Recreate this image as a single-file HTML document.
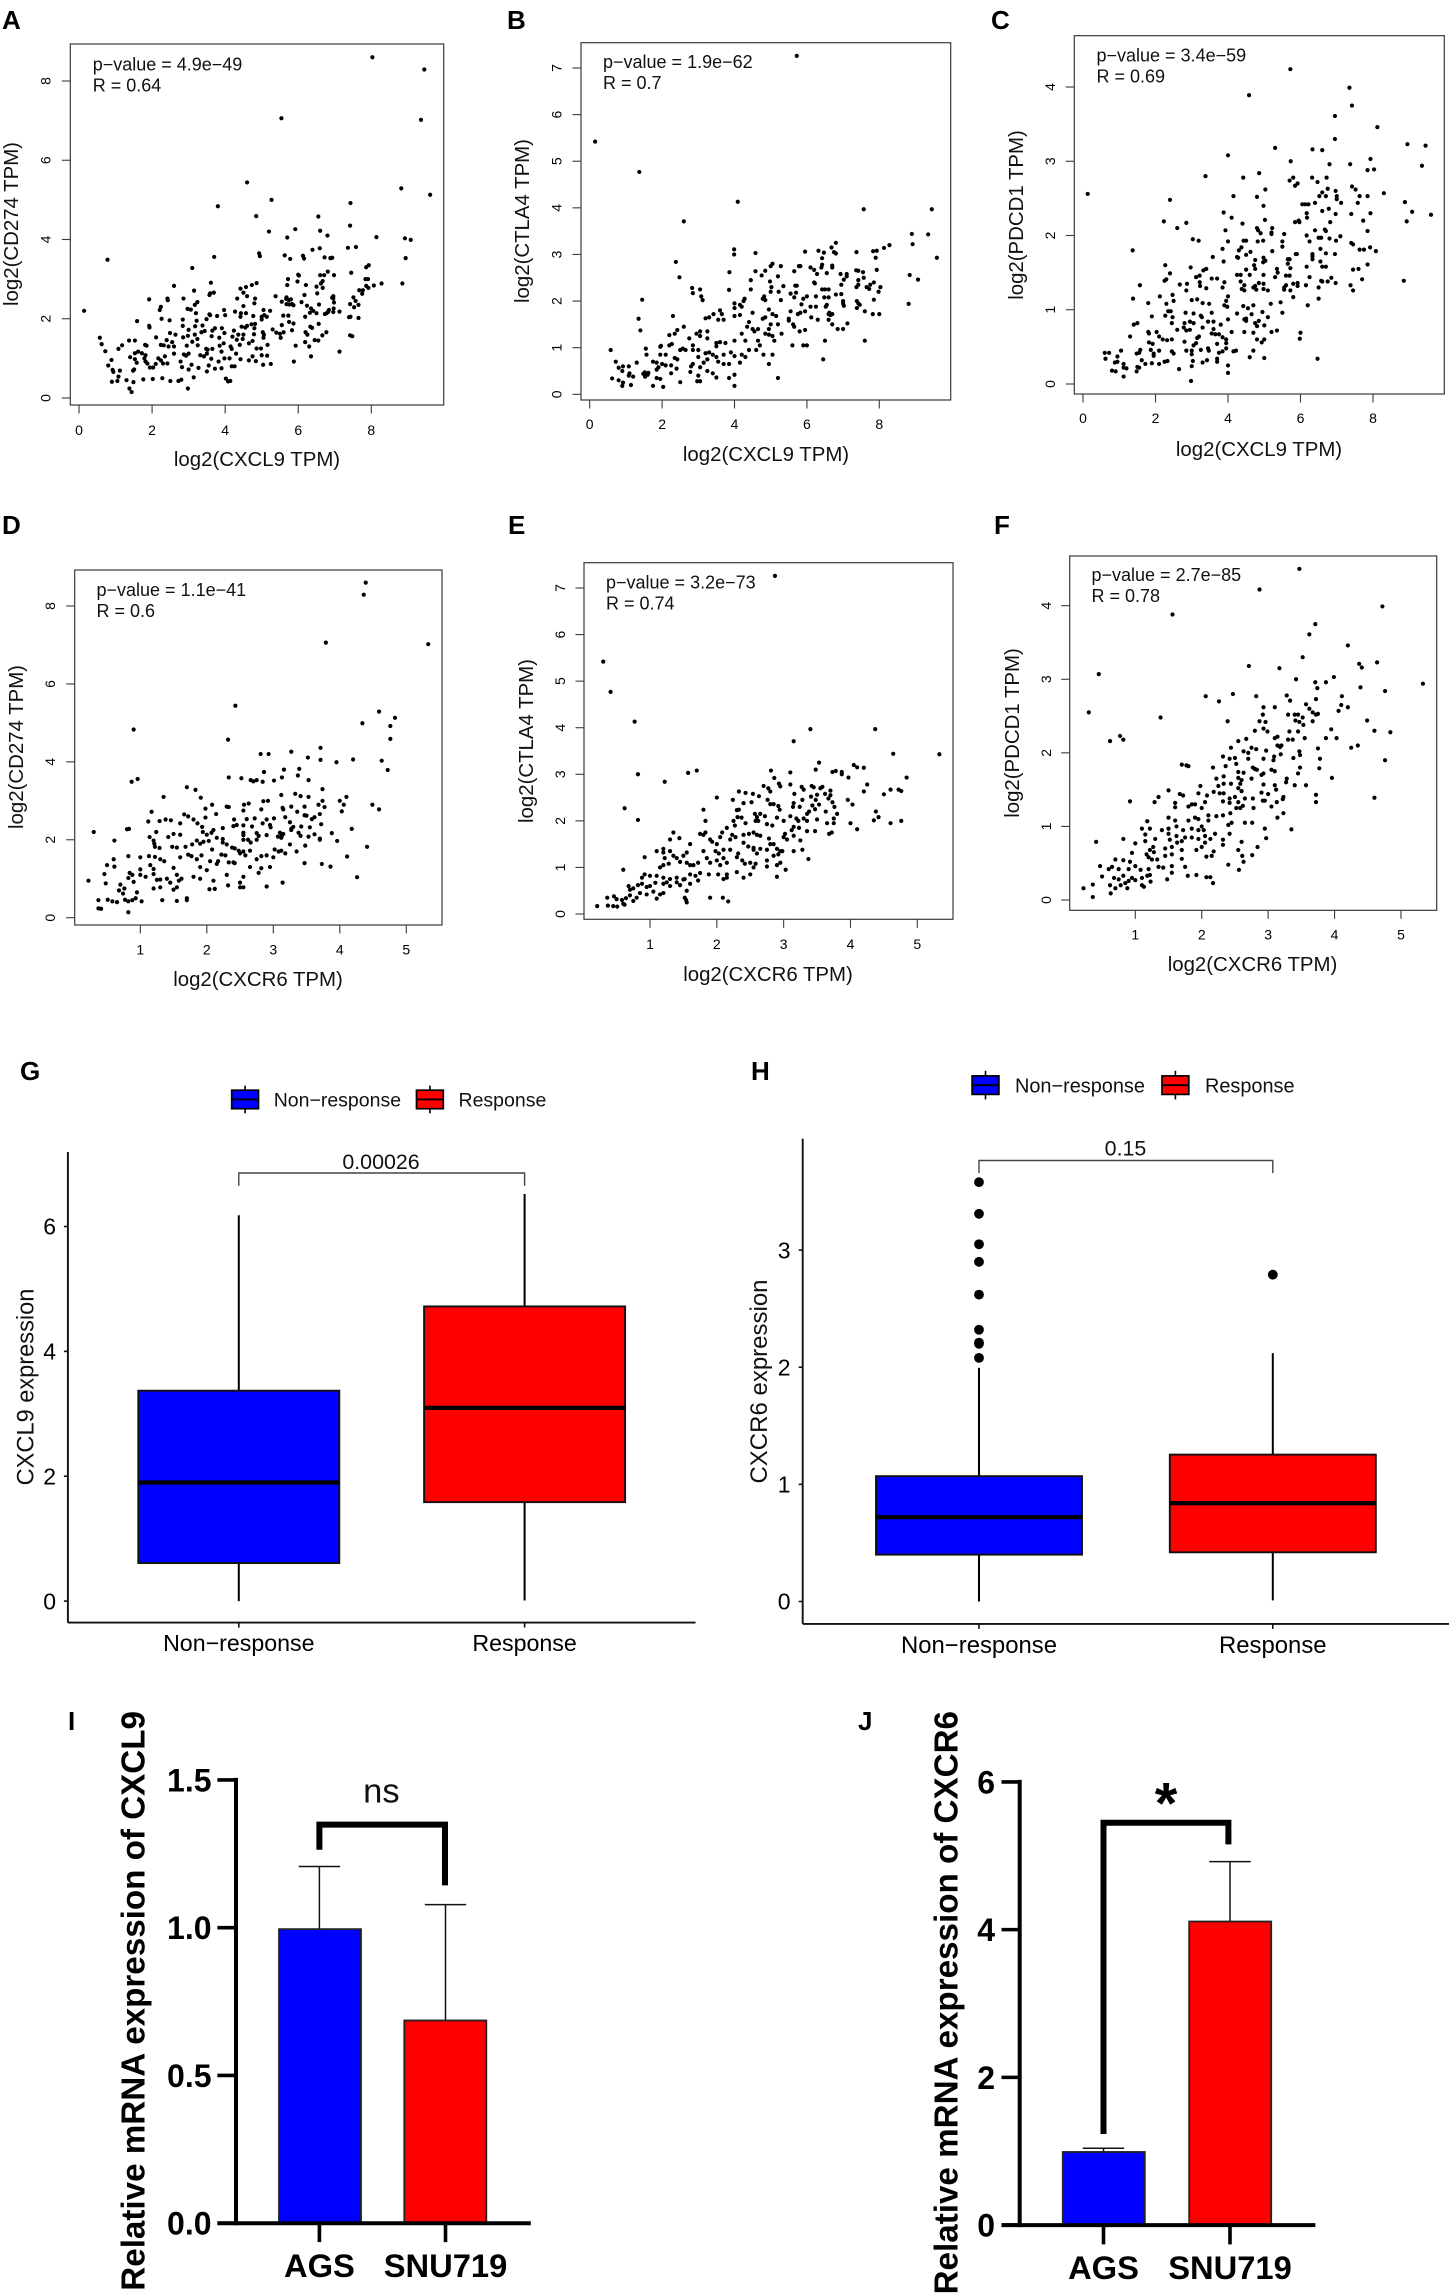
<!DOCTYPE html>
<html lang="en">
<head>
<meta charset="utf-8">
<title>CXCL9 and CXCR6 correlation, response and expression panels</title>
<style>
html,body{margin:0;padding:0;background:#fff;}
svg{display:block;}
text{font-family:"Liberation Sans",Arial,sans-serif;fill:#000;}
.panel-label{font-size:26px;font-weight:bold;}
.scatter-title{font-size:20.4px;fill:#111;}
.scatter-note{font-size:18px;fill:#111;}
.legend-label{font-size:19.5px;fill:#111;}
.box-title{font-size:23.6px;fill:#111;}
.p-label{font-size:21.4px;fill:#111;}
.bar-title{font-size:33.2px;font-weight:bold;}
</style>
</head>
<body>
<svg id="figure" xmlns="http://www.w3.org/2000/svg" width="1450" height="2295" viewBox="0 0 1450 2295">
<rect x="0" y="0" width="1450" height="2295" fill="#fff"/>

<text class="panel-label" x="2" y="29">A</text>
<text class="panel-label" x="507" y="29">B</text>
<text class="panel-label" x="991" y="29">C</text>
<text class="panel-label" x="2" y="534">D</text>
<text class="panel-label" x="508" y="534">E</text>
<text class="panel-label" x="994" y="534">F</text>
<text class="panel-label" x="20" y="1080">G</text>
<text class="panel-label" x="751" y="1080">H</text>
<text class="panel-label" x="68" y="1730">I</text>
<text class="panel-label" x="858" y="1730">J</text>

<text class="scatter-title" x="257" y="466" text-anchor="middle">log2(CXCL9 TPM)</text>
<text class="scatter-title" transform="translate(18 224) rotate(-90)" text-anchor="middle">log2(CD274 TPM)</text>
<text class="scatter-note" x="92.7" y="70.5">p−value = 4.9e−49</text>
<text class="scatter-note" x="92.7" y="91.5">R = 0.64</text>

<text class="scatter-title" x="766" y="461" text-anchor="middle">log2(CXCL9 TPM)</text>
<text class="scatter-title" transform="translate(529 221) rotate(-90)" text-anchor="middle">log2(CTLA4 TPM)</text>
<text class="scatter-note" x="603" y="68">p−value = 1.9e−62</text>
<text class="scatter-note" x="603" y="89">R = 0.7</text>

<text class="scatter-title" x="1259" y="456" text-anchor="middle">log2(CXCL9 TPM)</text>
<text class="scatter-title" transform="translate(1023 215) rotate(-90)" text-anchor="middle">log2(PDCD1 TPM)</text>
<text class="scatter-note" x="1096.5" y="61.5">p−value = 3.4e−59</text>
<text class="scatter-note" x="1096.5" y="82.5">R = 0.69</text>

<text class="scatter-title" x="258" y="986" text-anchor="middle">log2(CXCR6 TPM)</text>
<text class="scatter-title" transform="translate(23 747) rotate(-90)" text-anchor="middle">log2(CD274 TPM)</text>
<text class="scatter-note" x="96.5" y="596">p−value = 1.1e−41</text>
<text class="scatter-note" x="96.5" y="617">R = 0.6</text>

<text class="scatter-title" x="768" y="981" text-anchor="middle">log2(CXCR6 TPM)</text>
<text class="scatter-title" transform="translate(533 741) rotate(-90)" text-anchor="middle">log2(CTLA4 TPM)</text>
<text class="scatter-note" x="606" y="588.5">p−value = 3.2e−73</text>
<text class="scatter-note" x="606" y="609.5">R = 0.74</text>

<text class="scatter-title" x="1252.5" y="971" text-anchor="middle">log2(CXCR6 TPM)</text>
<text class="scatter-title" transform="translate(1019 733) rotate(-90)" text-anchor="middle">log2(PDCD1 TPM)</text>
<text class="scatter-note" x="1091.5" y="581">p−value = 2.7e−85</text>
<text class="scatter-note" x="1091.5" y="602">R = 0.78</text>

<text class="box-title" transform="translate(33.5 1387) rotate(-90)" text-anchor="middle">CXCL9 expression</text>
<text class="legend-label" x="273.7" y="1106.5">Non−response</text>
<text class="legend-label" x="458.5" y="1106.5">Response</text>
<text class="p-label" x="381" y="1169" text-anchor="middle">0.00026</text>

<text class="box-title" transform="translate(767 1381.5) rotate(-90)" text-anchor="middle" style="font-size:24px">CXCR6 expression</text>
<text class="legend-label" x="1015" y="1092.3" style="font-size:19.9px">Non−response</text>
<text class="legend-label" x="1205" y="1092.3" style="font-size:19.9px">Response</text>
<text class="p-label" x="1125.5" y="1155.5" text-anchor="middle">0.15</text>

<text class="bar-title" transform="translate(144.3 1711) rotate(-90)" text-anchor="end">Relative mRNA expression of CXCL9</text>
<text x="381.4" y="1802.7" text-anchor="middle" style="font-size:34.5px;fill:#111">ns</text>

<text class="bar-title" transform="translate(957.3 1711) rotate(-90)" text-anchor="end">Relative mRNA expression of CXCR6</text>
<text x="1166" y="1823.5" text-anchor="middle" style="font-size:58px;font-weight:bold">*</text>

<g id="marks"></g>
</svg>

<script>
// ---------- shared tick labels ----------
const ticksCXCL9 = [0, 2, 4, 6, 8];
const ticksCXCR6 = [1, 2, 3, 4, 5];
const ticksCD274 = [0, 2, 4, 6, 8];
const ticksCTLA4 = [0, 1, 2, 3, 4, 5, 6, 7];
const ticksPDCD1 = [0, 1, 2, 3, 4];

// ---------- scatter data: [x, y] values ----------
const pointsA = [
[8.03,8.6],[9.45,8.29],[5.54,7.06],[9.36,7.02],[4.6,5.44],[8.82,5.29],[9.61,5.13],[5.27,5.0],[7.43,4.92],[3.8,4.84],[4.85,4.59],[6.55,4.58],[7.42,4.35],[5.92,4.26],[5.2,4.2],[6.6,4.22],[6.8,4.1],[5.7,4.05],[8.14,4.06],[8.92,4.03],[9.08,3.99],[7.36,3.79],[7.58,3.81],[6.59,3.78],[6.39,3.74],[0.78,3.49],[3.7,3.56],[4.93,3.65],[4.95,3.58],[5.63,3.6],[5.78,3.51],[6.13,3.59],[6.16,3.52],[6.72,3.55],[6.88,3.53],[6.93,3.54],[8.94,3.53],[3.1,3.28],[7.86,3.3],[7.93,3.35],[6.81,3.19],[7.45,3.16],[6.0,3.11],[6.02,3.09],[6.6,3.1],[6.71,3.1],[6.98,3.1],[5.72,3.0],[7.84,3.0],[7.91,3.0],[3.61,2.91],[4.86,2.9],[4.73,2.85],[4.57,2.8],[5.98,2.94],[8.28,2.89],[8.85,2.89],[6.21,2.85],[5.7,2.85],[8.07,2.84],[7.86,2.83],[7.92,2.78],[2.6,2.83],[4.42,2.76],[6.67,2.95],[6.62,2.89],[6.5,2.81],[6.67,2.78],[3.15,2.71],[7.67,2.72],[7.77,2.72],[7.75,2.63],[3.69,2.66],[3.57,2.6],[3.59,2.64],[4.5,2.66],[6.52,2.64],[4.6,2.57],[6.17,2.6],[5.38,2.57],[4.33,2.51],[4.82,2.51],[1.92,2.49],[2.42,2.51],[2.43,2.47],[2.86,2.51],[5.68,2.54],[5.67,2.5],[5.74,2.47],[5.8,2.49],[6.96,2.57],[6.93,2.53],[6.96,2.51],[7.51,2.54],[5.55,2.43],[3.24,2.42],[6.09,2.42],[6.98,2.41],[7.57,2.45],[4.8,2.39],[3.17,2.35],[5.68,2.37],[5.76,2.36],[5.87,2.34],[5.83,2.37],[6.57,2.36],[4.5,2.32],[7.42,2.37],[7.53,2.29],[7.65,2.35],[6.24,2.33],[6.35,2.26],[2.24,2.3],[2.21,2.22],[2.97,2.25],[3.06,2.23],[3.2,2.14],[3.97,2.22],[5.05,2.22],[5.23,2.2],[4.27,2.18],[4.43,2.14],[4.57,2.14],[6.41,2.2],[6.5,2.14],[6.32,2.15],[6.97,2.26],[6.84,2.22],[6.82,2.18],[7.13,2.18],[6.96,2.17],[6.73,2.12],[6.78,2.14],[3.57,2.11],[3.59,2.09],[4.0,2.09],[3.78,2.07],[5.59,2.08],[5.73,2.08],[7.39,2.04],[7.43,2.05],[6.19,2.05],[4.42,2.05],[4.77,2.07],[5.0,2.05],[5.07,2.09],[5.14,2.05],[5.0,1.98],[7.65,2.02],[2.26,2.0],[2.48,1.96],[1.59,1.94],[2.84,1.98],[3.49,1.99],[3.22,1.95],
[1.92,1.82],[1.93,1.78],[2.84,1.82],[3.18,1.81],[3.38,1.83],[3.72,1.76],[3.91,1.76],[4.45,1.8],[4.6,1.82],[4.72,1.86],[4.82,1.87],[4.55,1.78],[5.75,1.92],[5.55,1.84],[5.87,1.88],[6.33,1.8],[6.38,1.77],[6.56,1.87],[3.0,1.72],[3.35,1.66],[3.44,1.69],[3.65,1.7],[3.98,1.64],[4.24,1.7],[4.8,1.76],[5.03,1.66],[5.3,1.73],[5.83,1.71],[6.2,1.66],[6.77,1.66],[6.66,1.58],[5.4,1.65],[5.5,1.62],[5.6,1.66],[2.64,1.6],[2.49,1.64],[2.98,1.57],[3.17,1.6],[3.63,1.56],[3.84,1.52],[4.2,1.55],[4.36,1.6],[4.5,1.6],[4.79,1.61],[5.06,1.6],[5.52,1.52],[6.25,1.6],[7.42,1.58],[7.48,1.56],[2.11,1.53],[2.85,1.53],[2.4,1.46],[2.55,1.41],[3.1,1.42],[3.24,1.49],[4.32,1.47],[4.48,1.49],[4.75,1.44],[5.05,1.52],[6.45,1.46],[6.55,1.45],[6.19,1.41],[2.24,1.34],[2.32,1.33],[2.45,1.3],[2.6,1.3],[2.95,1.32],[3.25,1.33],[3.48,1.24],[3.52,1.22],[3.85,1.32],[3.96,1.38],[4.15,1.3],[4.4,1.34],[4.65,1.38],[5.16,1.34],[5.93,1.32],[6.3,1.3],[7.13,1.17],[0.57,1.52],[0.62,1.36],[0.72,1.18],[0.89,0.96],[0.8,0.82],[0.92,0.71],[0.94,0.66],[0.9,0.41],[1.05,0.43],[1.08,0.54],[1.12,0.69],[1.08,1.24],[1.18,1.33],[1.37,1.45],[1.53,1.45],[1.3,0.45],[1.38,0.24],[1.44,0.15],[1.49,0.4],[1.48,0.69],[1.51,0.72],[1.4,1.03],[1.53,1.13],[1.62,1.17],[1.53,0.98],[1.58,0.89],[1.72,1.13],[1.81,1.34],[1.85,1.32],[1.82,1.08],[1.79,1.0],[1.82,0.92],[1.87,0.87],[1.76,0.47],[2.02,0.48],[2.28,0.5],[1.94,0.77],[2.03,0.77],[2.1,0.86],[2.17,1.0],[2.24,0.95],[2.3,0.87],[2.42,0.87],[2.5,0.43],[2.72,0.43],[2.8,0.46],[2.98,0.24],[3.14,0.52],[2.82,0.78],[2.78,0.92],[2.87,1.1],[2.93,1.07],[3.0,1.12],[3.08,0.84],[3.0,0.72],[3.27,0.76],[3.5,0.67],[3.55,0.82],[3.62,0.99],[3.72,0.74],[3.82,0.92],[3.9,0.75],[3.98,1.0],[4.12,1.0],[4.02,0.49],[4.08,0.42],[4.14,0.43],[4.18,0.8],[4.26,0.8],[4.42,0.98],[4.65,0.95],[4.75,1.05],[4.84,0.93],[4.86,1.25],[4.98,1.25],[5.0,1.08],[5.04,0.84],[5.25,0.86],[5.15,1.07],[5.88,0.92],[6.35,1.05],[3.32,1.08],[3.42,1.05],[3.5,1.12],[3.65,1.24],[3.9,1.17],[4.18,1.24],[4.3,1.12],[2.35,1.05],[2.6,1.12],[0.14,2.2]
];
const pointsB = [
[5.72,7.26],[0.15,5.42],[1.37,4.77],[4.09,4.13],[2.6,3.71],[7.57,3.97],[9.45,3.97],[8.9,3.44],[9.35,3.43],[8.92,3.22],[9.59,2.93],[8.28,3.2],[8.13,3.14],[2.38,2.84],[2.48,2.51],[3.99,3.11],[3.99,3.0],[4.58,3.03],[8.84,2.56],[9.07,2.46],[8.81,1.94],[5.95,3.06],[6.32,3.08],[6.47,3.04],[6.8,3.25],[6.68,3.15],[6.8,3.02],[6.75,3.05],[7.37,3.05],[7.83,3.07],[7.93,3.08],[7.9,2.93],[6.42,2.92],[5.05,2.8],[5.0,2.75],[5.28,2.75],[5.78,2.75],[5.82,2.75],[6.1,2.72],[6.2,2.67],[6.42,2.78],[6.4,2.72],[6.7,2.76],[6.7,2.72],[7.36,2.66],[7.42,2.65],[7.55,2.62],[7.93,2.67],[5.65,2.64],[4.58,2.64],[3.86,2.62],[4.85,2.65],[4.75,2.55],[4.98,2.42],[4.45,2.45],[5.2,2.53],[6.55,2.6],[6.28,2.58],[6.93,2.58],[7.1,2.58],[7.1,2.53],[7.57,2.5],[7.42,2.45],[7.02,2.46],[6.95,2.35],[7.42,2.35],[7.85,2.4],[7.65,2.3],[7.72,2.26],[7.75,2.35],[8.03,2.3],[7.98,2.2],[7.37,2.3],[6.2,2.4],[6.22,2.38],[5.72,2.33],[5.68,2.33],[6.5,2.25],[6.6,2.25],[6.42,2.25],[5.02,2.3],[5.35,2.32],[5.22,2.2],[5.0,2.2],[4.45,2.25],[2.83,2.28],[3.05,2.25],[2.85,2.17],[3.08,2.1],[3.12,2.02],[1.45,2.03],[3.85,2.24],[5.55,2.16],[5.7,2.18],[5.65,2.08],[6.0,2.1],[5.9,2.05],[6.25,2.1],[6.48,2.08],[6.6,2.08],[6.8,2.14],[6.95,2.15],[7.0,2.0],[7.0,1.95],[7.02,1.9],[5.28,2.02],[4.78,2.05],[4.82,2.1],[4.85,2.02],[4.28,2.05],[4.25,2.0],[4.0,1.95],[4.0,1.85],[4.15,1.92],[4.2,1.88],[5.85,1.93],[6.1,1.88],[6.25,1.88],[6.55,1.92],[6.52,1.88],[7.38,2.0],[7.42,1.95],[7.46,1.92],[7.38,1.85],[7.85,2.03],[8.0,1.72],[5.55,1.78],[5.82,1.75],[5.75,1.72],[5.95,1.78],[4.95,1.82],[5.05,1.72],[5.15,1.68],[4.85,1.65],[4.78,1.62],[4.5,1.75],[4.15,1.7],[4.0,1.68],[3.65,1.72],[3.6,1.8],[3.7,1.6],[3.42,1.72],[3.3,1.65],[3.2,1.63],[3.55,1.6],[2.3,1.68],[1.35,1.62],[1.4,1.37],[6.12,1.65],[6.3,1.6],[6.6,1.6],[6.62,1.75],[6.7,1.72],[6.6,1.72],[6.65,1.7],[7.12,1.52],[7.6,1.78],[7.82,1.72],[6.7,1.5],[6.85,1.4],[7.0,1.4],[5.5,1.62],[5.5,1.58],[5.62,1.5],[5.65,1.45],[5.2,1.5],[5.0,1.5],[5.3,1.3],[4.95,1.4],[4.65,1.4],[4.5,1.4],[4.4,1.55],[4.35,1.45],[4.2,1.3],[4.55,1.35],[4.85,1.3],[4.95,1.28],[5.05,1.25],[5.1,1.15],[5.8,1.35],[5.95,1.38],[5.6,1.05],[5.9,1.05],[6.0,1.05],[6.5,1.15],[7.6,1.15],[6.45,0.75],[2.6,1.45],[2.2,1.27],[2.35,1.3],[2.42,1.38],[3.05,1.35],[3.25,1.35],[3.05,1.25],[2.95,1.3],[2.75,1.2],[3.25,1.2],[3.5,1.1],[3.6,1.12],[3.75,1.1],[4.0,1.15],[4.3,1.15],[4.65,1.15],[4.7,1.05],[4.6,0.95],[4.8,0.85],[5.05,0.85],[4.95,0.65],[5.2,0.35],[1.55,0.98],[1.57,0.85],[0.58,0.95],[0.72,0.7],[0.8,0.57],[0.92,0.6],[1.08,0.6],[0.9,0.5],[1.1,0.45],[1.2,0.38],[1.08,0.4],[1.3,0.68],[0.62,0.34],[0.8,0.3],[0.92,0.25],[0.9,0.18],[1.14,0.2],[1.48,0.44],[1.52,0.47],[1.55,0.44],[1.6,0.42],[1.53,0.38],[1.62,0.46],[1.75,0.7],[1.85,0.68],[1.9,0.58],[1.95,0.85],[1.95,1.02],[1.97,1.04],[2.2,1.05],[2.27,1.08],[2.1,0.85],[1.85,0.53],[2.0,0.65],[2.1,0.62],[2.25,0.62],[2.25,0.45],[2.35,0.78],[2.42,0.75],[2.5,0.95],[2.57,0.98],[2.4,0.55],[1.75,0.18],[1.85,0.35],[1.95,0.33],[2.03,0.16],[2.5,0.26],[2.65,0.95],[2.85,1.05],[2.85,0.95],[2.8,0.6],[2.85,0.65],[2.78,0.48],[3.0,0.95],[3.0,0.8],[2.97,0.28],[3.05,0.28],[3.0,0.4],[3.05,0.58],[3.2,0.88],[3.3,0.9],[3.25,0.75],[3.4,0.85],[3.5,0.8],[3.5,1.03],[3.7,0.85],[3.7,0.65],[3.85,0.65],[3.9,0.9],[4.0,0.82],[4.2,0.85],[4.15,0.68],[3.85,0.35],[4.0,0.42],[4.0,0.18],[3.4,0.45],[3.5,0.36],[3.55,0.7],[3.15,0.68],[3.25,0.5],[4.4,0.95],[4.3,0.8]
];
const pointsC = [
[0.13,2.56],[5.72,4.24],[4.58,3.89],[7.35,3.99],[7.42,3.75],[6.95,3.61],[8.12,3.46],[6.95,3.3],[5.3,3.18],[6.33,3.16],[6.6,3.15],[8.95,3.23],[9.45,3.21],[4.0,3.08],[5.73,3.0],[6.8,2.96],[7.37,2.96],[7.93,3.03],[7.85,2.88],[8.03,2.89],[9.35,2.94],[4.86,2.84],[3.38,2.8],[4.42,2.78],[5.8,2.78],[5.7,2.74],[6.32,2.78],[6.72,2.78],[6.47,2.72],[5.92,2.7],[5.85,2.67],[7.42,2.66],[7.52,2.62],[6.75,2.63],[6.97,2.6],[5.03,2.62],[6.6,2.58],[6.52,2.53],[6.7,2.53],[7.0,2.53],[7.0,2.49],[7.85,2.53],[7.63,2.53],[8.3,2.57],[4.15,2.53],[4.8,2.52],[2.4,2.48],[7.58,2.44],[7.12,2.44],[6.4,2.44],[8.88,2.45],[6.05,2.42],[6.13,2.42],[6.22,2.42],[4.98,2.4],[6.78,2.36],[6.6,2.33],[6.97,2.29],[7.4,2.29],[7.93,2.3],[9.08,2.32],[9.6,2.28],[3.88,2.31],[4.1,2.24],[6.17,2.3],[6.18,2.24],[5.02,2.21],[5.85,2.18],[5.95,2.2],[5.97,2.18],[6.82,2.18],[7.73,2.2],[2.23,2.19],[2.85,2.17],[4.4,2.16],[8.93,2.19],[2.6,2.1],[4.8,2.1],[4.83,2.07],[5.22,2.1],[5.2,2.04],[5.2,2.02],[3.93,2.07],[4.9,2.03],[5.55,2.02],[6.17,2.0],[6.4,2.07],[6.67,2.08],[6.7,2.06],[7.85,2.06],[7.1,1.99],[6.5,1.97],[6.57,1.97],[6.8,1.96],[5.5,1.92],[6.25,1.92],[6.98,1.93],[7.4,1.9],[7.45,1.88],[3.03,1.95],[3.19,1.93],[4.0,1.92],[4.5,1.93],[4.43,1.93],[4.82,1.92],[4.97,1.93],[3.85,1.82],[4.3,1.8],[4.37,1.84],[5.5,1.85],[5.22,1.79],[6.55,1.82],[7.63,1.81],[7.75,1.81],[7.92,1.84],[8.08,1.79],[1.37,1.8],[4.25,1.71],[4.28,1.7],[4.5,1.74],[4.62,1.78],[5.87,1.75],[5.9,1.75],[6.33,1.75],[6.33,1.72],[6.7,1.76],[6.95,1.75],[3.58,1.71],[3.88,1.65],[4.75,1.67],[4.98,1.7],[5.03,1.66],[4.97,1.64],[5.65,1.68],[5.7,1.68],[5.65,1.62],[6.33,1.68],[6.55,1.65],[6.6,1.58],[6.7,1.58],[7.85,1.61],[2.27,1.6],[2.97,1.57],[3.32,1.53],[3.4,1.55],[4.5,1.54],[4.72,1.6],[4.75,1.55],[5.35,1.55],[5.37,1.5],[5.72,1.56],[6.17,1.58],[7.45,1.54],[7.6,1.55],[2.4,1.49],[2.3,1.41],[2.25,1.39],[3.12,1.44],[3.22,1.46],[4.25,1.47],[4.35,1.47],[4.6,1.47],[4.98,1.47],[5.6,1.46],[5.7,1.46],[5.3,1.44],[6.25,1.44],[6.85,1.43],[7.7,1.41],[3.22,1.37],[3.23,1.32],[3.55,1.42],[3.7,1.42],[3.9,1.37],[4.35,1.38],[4.45,1.33],[4.75,1.32],[4.85,1.36],[4.98,1.35],[5.6,1.33],[5.55,1.3],[5.8,1.35],[5.92,1.36],[5.92,1.32],[6.15,1.33],[6.57,1.39],[6.6,1.38],[6.75,1.38],[6.97,1.36],[7.38,1.33],[8.85,1.39],[7.45,1.26],[2.67,1.34],[2.87,1.35],[1.57,1.33],[2.85,1.26],[3.4,1.29],[3.85,1.3],[4.0,1.18],[4.38,1.28],[4.45,1.26],[4.7,1.3],[4.78,1.27],[4.98,1.28],[5.1,1.26],[5.55,1.27],[5.72,1.26],[5.8,1.17],[6.5,1.3],[1.38,1.15],[2.12,1.18],[2.47,1.2],[2.5,1.12],[3.0,1.13],[3.15,1.14],[3.3,1.09],[3.48,1.08],[3.9,1.06],[3.98,1.04],[3.95,1.12],[4.42,1.05],[4.55,1.02],[4.7,1.06],[5.18,1.08],[5.45,1.1],[6.2,1.06],[6.5,1.15],[1.8,1.09],[2.3,1.08],[2.35,0.98],[2.27,0.92],[2.42,0.98],[2.47,0.9],[1.9,0.91],[2.83,0.96],[3.05,0.95],[3.25,0.92],[3.28,0.9],[3.55,0.96],[3.6,0.84],[4.25,0.95],[4.5,0.88],[4.5,0.85],[4.65,0.94],[4.95,0.97],[5.1,0.9],[5.5,0.96],[1.4,0.8],[1.5,0.82],[2.45,0.82],[2.8,0.82],[2.95,0.84],[3.05,0.82],[3.3,0.76],[3.45,0.84],[3.6,0.74],[3.8,0.8],[4.0,0.87],[4.45,0.87],[4.75,0.82],[4.85,0.85],[4.8,0.78],[5.0,0.79],[1.8,0.7],[1.82,0.68],[2.03,0.7],[2.6,0.73],[2.78,0.76],[2.85,0.72],[2.95,0.73],[3.55,0.68],[3.65,0.67],[3.75,0.67],[4.1,0.7],[4.45,0.7],[4.7,0.69],[5.2,0.7],[5.35,0.72],[6.0,0.69],[1.3,0.64],[1.82,0.56],[2.1,0.64],[2.2,0.6],[2.32,0.59],[2.45,0.6],[2.8,0.57],[3.15,0.62],[3.2,0.64],[3.7,0.54],[3.85,0.63],[3.95,0.6],[3.95,0.55],[4.8,0.6],[5.0,0.6],[4.93,0.56],[5.98,0.61],[3.05,0.52],[3.12,0.55],[1.92,0.54],[1.87,0.46],[1.58,0.46],[1.55,0.42],[1.48,0.41],[1.05,0.45],[0.6,0.42],[0.72,0.42],[0.62,0.34],[0.95,0.37],[0.88,0.29],[0.95,0.3],[1.12,0.27],[0.8,0.18],[0.9,0.17],[1.12,0.22],[1.2,0.21],[1.12,0.1],[1.5,0.23],[1.55,0.22],[1.48,0.17],[1.62,0.32],[1.72,0.27],[1.9,0.28],[1.95,0.38],[1.95,0.41],[2.1,0.45],[2.25,0.3],[2.1,0.27],[2.45,0.44],[2.5,0.41],[2.33,0.31],[2.65,0.2],[2.85,0.45],[3.0,0.45],[3.0,0.4],[3.03,0.31],[3.0,0.24],[2.98,0.04],[3.25,0.46],[3.3,0.29],[3.42,0.32],[3.45,0.48],[3.47,0.45],[3.7,0.34],[3.7,0.3],[3.75,0.42],[3.85,0.44],[3.95,0.48],[4.0,0.25],[4.0,0.15],[4.15,0.44],[4.22,0.45],[4.6,0.36],[4.7,0.45],[5.0,0.35],[6.47,0.34]
];
const pointsD = [
[4.39,8.6],[4.36,8.29],[3.79,7.06],[5.33,7.02],[2.43,5.44],[4.59,5.29],[4.83,5.13],[4.34,4.99],[4.76,4.92],[0.9,4.83],[4.76,4.59],[2.32,4.57],[3.71,4.36],[3.27,4.26],[2.81,4.2],[2.93,4.2],[3.52,4.11],[3.71,4.05],[4.2,4.06],[3.95,3.99],[4.63,4.03],[3.16,3.8],[3.39,3.82],[2.86,3.74],[4.72,3.79],[2.33,3.6],[3.37,3.65],[3.13,3.6],[0.87,3.49],[0.96,3.56],[2.52,3.58],[2.66,3.53],[2.75,3.53],[2.7,3.5],[2.84,3.49],[3.01,3.52],[3.53,3.53],[3.74,3.3],[1.7,3.35],[1.83,3.28],[1.35,3.1],[1.91,3.08],[3.12,3.15],[3.33,3.18],[3.41,3.12],[3.53,3.1],[4.1,3.1],[3.74,3.0],[2.85,2.99],[2.92,3.0],[4.0,3.0],[2.56,2.9],[2.63,2.93],[2.08,2.9],[2.3,2.85],[2.33,2.84],[3.27,2.85],[3.14,2.82],[3.15,2.78],[4.06,2.9],[4.49,2.9],[3.47,2.85],[3.68,2.9],[3.77,2.84],[1.98,2.8],[2.55,2.75],[2.82,2.78],[4.03,2.73],[4.59,2.78],[1.17,2.72],[1.66,2.65],[2.14,2.66],[3.36,2.72],[3.7,2.66],[3.47,2.63],[3.5,2.62],[1.72,2.6],[1.98,2.57],[2.6,2.53],[2.72,2.55],[2.41,2.52],[3.01,2.55],[2.9,2.52],[3.18,2.58],[3.58,2.53],[3.62,2.58],[1.12,2.47],[1.29,2.48],[1.38,2.52],[1.46,2.5],[1.8,2.52],[1.6,2.42],[1.86,2.42],[2.45,2.38],[2.4,2.35],[1.93,2.33],[2.55,2.37],[2.68,2.34],[2.84,2.42],[2.95,2.38],[2.96,2.32],[3.25,2.45],[3.3,2.33],[3.27,2.28],[3.42,2.34],[3.55,2.32],[3.72,2.4],[0.3,2.2],[0.8,2.27],[0.83,2.28],[1.24,2.2],[1.5,2.15],[1.6,2.13],[1.94,2.2],[2.1,2.25],[2.07,2.18],[2.0,2.13],[2.24,2.3],[2.55,2.18],[2.55,2.12],[2.75,2.17],[2.78,2.1],[2.9,2.12],[3.1,2.18],[3.15,2.15],[3.07,2.08],[3.27,2.25],[3.38,2.18],[3.41,2.1],[3.53,2.08],[3.62,2.14],[3.88,2.17],[4.18,2.28],[0.61,1.98],[1.14,2.07],[1.2,1.98],[1.21,1.9],[1.42,2.07],[1.85,1.98],[1.95,1.95],[2.03,1.97],[2.15,2.05],[2.24,2.02],[2.55,2.0],[2.62,2.0],[2.66,1.93],[2.75,2.0],[3.12,2.05],[3.13,2.1],[3.7,2.0],[3.7,2.03],[3.96,1.97],[0.82,1.58],[1.22,1.82],[1.29,1.79],[1.48,1.82],[1.55,1.8],[1.68,1.82],[1.78,1.88],[1.9,1.9],[2.08,1.75],[2.24,1.93],[2.3,1.88],[2.38,1.8],[2.42,1.78],[2.48,1.72],[2.55,1.7],[2.65,1.72],[3.02,1.75],[3.12,1.72],[3.18,1.65],[3.25,1.88],[3.35,1.7],[3.48,1.85],[4.41,1.82],[0.5,1.35],[0.6,1.5],[0.61,1.31],[1.0,1.55],[1.13,1.58],[1.22,1.56],[1.3,1.5],[1.36,1.45],[1.6,1.55],[1.72,1.62],[1.77,1.58],[1.85,1.5],[1.92,1.6],[2.05,1.45],[2.17,1.45],[2.22,1.62],[2.28,1.6],[2.4,1.42],[2.5,1.65],[2.58,1.6],[2.75,1.5],[2.82,1.58],[2.9,1.6],[3.0,1.55],[3.08,1.7],[4.11,1.57],[0.46,1.12],[0.48,0.88],[0.68,0.7],[0.7,0.85],[0.76,0.75],[0.82,1.02],[0.84,1.15],[0.88,1.1],[0.9,0.92],[1.0,1.24],[1.0,1.1],[1.08,1.05],[1.15,1.35],[1.2,1.25],[1.2,1.12],[1.25,0.97],[1.3,0.98],[1.4,1.0],[1.45,0.9],[1.5,1.28],[1.55,1.1],[1.58,0.95],[1.62,1.0],[1.8,1.05],[1.9,1.3],[1.9,1.0],[2.0,1.22],[2.1,0.95],[2.15,1.38],[2.3,1.1],[2.33,1.42],[2.42,1.4],[2.5,0.9],[2.55,1.05],[2.65,1.3],[2.78,1.15],[2.82,1.27],[2.95,1.3],[3.47,1.4],[3.73,1.38],[3.86,1.31],[4.26,1.04],[0.37,0.45],[0.37,0.24],[0.41,0.23],[0.51,0.46],[0.58,0.42],[0.65,0.4],[0.68,0.7],[0.74,0.62],[0.77,0.46],[0.82,0.42],[0.82,0.14],[0.88,0.45],[0.93,0.5],[0.95,0.65],[1.02,0.42],[1.2,0.75],[1.3,0.78],[1.33,0.45],[1.5,0.72],[1.55,0.78],[1.55,0.43],[1.7,0.45],[1.7,0.5],[2.04,0.73],[2.12,0.74],[2.32,0.83],[2.5,0.78],[2.55,0.78],[2.9,0.8],[3.14,0.9],[0.22,0.95]
];
const pointsE = [
[2.87,7.26],[0.3,5.42],[0.41,4.77],[0.77,4.13],[3.15,3.71],[3.4,3.97],[4.37,3.97],[4.64,3.44],[5.33,3.43],[3.53,3.25],[4.05,3.2],[4.1,3.15],[4.2,3.14],[3.48,3.1],[2.81,3.08],[0.82,3.0],[1.57,3.03],[1.7,3.08],[3.1,3.04],[3.73,3.05],[3.78,3.07],[3.87,3.05],[3.87,3.0],[3.97,2.93],[4.84,2.93],[1.22,2.84],[2.86,2.92],[2.93,2.8],[2.95,2.74],[3.1,2.78],[3.27,2.73],[3.42,2.75],[3.45,2.72],[3.55,2.7],[3.58,2.73],[3.7,2.65],[2.7,2.75],[2.77,2.7],[2.8,2.63],[2.33,2.63],[2.43,2.6],[2.54,2.58],[2.63,2.53],[3.16,2.58],[3.3,2.67],[3.5,2.56],[3.62,2.58],[3.7,2.55],[4.2,2.63],[4.25,2.78],[4.5,2.57],[4.6,2.67],[4.72,2.67],[4.76,2.64],[2.0,2.5],[2.24,2.45],[2.4,2.38],[2.52,2.4],[2.76,2.45],[2.8,2.36],[2.85,2.36],[3.28,2.45],[3.41,2.52],[3.48,2.45],[3.67,2.48],[3.73,2.4],[3.96,2.45],[4.03,2.35],[0.62,2.27],[1.8,2.24],[2.3,2.23],[2.33,2.24],[2.92,2.32],[2.94,2.24],[3.14,2.3],[3.15,2.38],[3.24,2.3],[3.43,2.33],[3.47,2.25],[3.53,2.35],[3.63,2.2],[3.76,2.3],[3.8,2.15],[4.38,2.2],[4.42,2.08],[0.82,2.02],[1.83,2.0],[2.25,2.0],[2.31,2.08],[2.37,2.07],[2.57,2.15],[2.6,2.08],[2.65,2.15],[2.72,2.1],[2.9,2.07],[3.0,2.0],[3.1,2.1],[3.19,2.05],[3.22,2.0],[3.3,2.05],[3.35,2.15],[3.38,2.2],[3.5,2.03],[3.65,1.95],[3.75,1.95],[3.75,2.05],[4.0,1.95],[4.35,2.01],[4.6,1.95],[4.76,2.0],[2.15,1.85],[2.27,1.9],[2.43,1.95],[2.58,2.0],[2.62,2.0],[2.75,1.93],[2.83,1.9],[3.15,1.87],[3.12,1.8],[3.23,1.85],[3.25,1.58],[3.35,2.0],[3.35,1.78],[3.47,1.78],[3.68,1.72],[3.72,1.75],[4.1,1.82],[1.35,1.75],[1.44,1.63],[1.3,1.6],[1.75,1.72],[1.8,1.7],[1.83,1.75],[1.9,1.6],[2.05,1.65],[2.08,1.75],[2.2,1.6],[2.23,1.7],[2.28,1.65],[2.4,1.7],[2.48,1.72],[2.55,1.75],[2.6,1.7],[2.65,1.68],[2.78,1.62],[3.0,1.65],[3.02,1.72],[3.05,1.6],[3.15,1.68],[1.6,1.5],[1.93,1.55],[2.0,1.5],[2.4,1.53],[2.47,1.45],[2.55,1.42],[2.65,1.4],[2.75,1.38],[2.8,1.5],[2.85,1.5],[2.9,1.4],[2.95,1.35],[3.15,1.35],[3.28,1.38],[1.1,1.35],[1.2,1.4],[1.3,1.35],[1.35,1.25],[1.22,1.2],[1.2,1.32],[1.55,1.32],[1.5,1.25],[1.8,1.35],[1.98,1.35],[2.03,1.3],[2.1,1.38],[2.2,1.38],[2.32,1.3],[2.55,1.38],[2.6,1.3],[2.85,1.25],[2.92,1.28],[2.98,1.35],[0.92,1.22],[1.15,1.0],[1.2,1.05],[1.28,1.08],[1.4,1.2],[1.45,1.12],[1.55,1.1],[1.6,1.05],[1.65,1.05],[1.72,1.1],[1.85,1.2],[1.9,1.1],[2.0,1.15],[2.05,1.05],[2.1,1.2],[2.15,1.1],[2.3,1.22],[2.38,1.15],[2.42,1.08],[2.5,1.1],[2.58,1.08],[2.75,1.15],[2.75,1.02],[2.9,1.05],[2.95,1.1],[3.03,0.95],[3.37,1.18],[0.6,0.95],[0.88,0.78],[0.92,0.85],[1.0,0.82],[1.1,0.82],[1.2,0.78],[1.3,0.75],[1.4,0.78],[1.5,0.74],[1.6,0.85],[1.68,0.82],[1.75,0.88],[1.88,0.85],[2.02,0.85],[2.15,0.85],[2.3,0.9],[2.4,0.78],[2.5,0.85],[2.55,1.0],[2.9,0.8],[2.15,0.78],[2.1,0.75],[0.68,0.6],[0.7,0.52],[0.75,0.55],[0.82,0.62],[0.88,0.65],[0.95,0.58],[1.0,0.6],[1.08,0.67],[1.2,0.65],[1.25,0.68],[1.3,0.6],[1.4,0.68],[1.45,0.62],[1.52,0.75],[1.6,0.65],[1.72,0.72],[1.55,0.5],[0.36,0.35],[0.37,0.18],[0.21,0.17],[0.46,0.38],[0.5,0.32],[0.45,0.17],[0.51,0.16],[0.58,0.3],[0.6,0.22],[0.62,0.2],[0.64,0.34],[0.7,0.4],[0.75,0.28],[0.8,0.35],[0.85,0.45],[0.95,0.42],[1.05,0.48],[1.1,0.33],[1.15,0.42],[1.2,0.45],[1.52,0.35],[1.54,0.3],[1.55,0.25],[1.9,0.35],[2.09,0.35],[2.17,0.27]
];
const pointsF = [
[3.47,4.5],[2.87,4.22],[4.72,3.99],[1.56,3.88],[3.71,3.75],[3.62,3.61],[4.2,3.46],[3.52,3.3],[4.37,3.21],[4.41,3.16],[4.64,3.23],[3.17,3.15],[2.71,3.18],[0.45,3.07],[3.42,3.0],[3.99,3.03],[3.71,2.96],[3.87,2.96],[3.74,2.88],[5.33,2.94],[4.39,2.89],[4.76,2.84],[2.47,2.8],[2.06,2.77],[2.82,2.77],[3.28,2.78],[4.11,2.77],[2.26,2.7],[3.33,2.71],[3.72,2.73],[3.57,2.66],[3.62,2.6],[4.1,2.65],[4.2,2.62],[2.93,2.62],[3.1,2.62],[2.92,2.52],[3.3,2.52],[3.4,2.52],[3.45,2.52],[3.67,2.55],[3.72,2.52],[3.75,2.53],[4.06,2.57],[3.52,2.48],[0.3,2.55],[1.38,2.48],[2.39,2.43],[2.87,2.43],[2.96,2.42],[3.41,2.44],[3.47,2.42],[3.53,2.38],[3.67,2.43],[4.49,2.44],[2.8,2.3],[2.93,2.33],[2.99,2.29],[3.32,2.29],[3.45,2.29],[4.6,2.3],[4.84,2.28],[3.95,2.32],[3.1,2.2],[3.14,2.22],[3.55,2.2],[3.3,2.18],[3.37,2.18],[3.87,2.2],[4.03,2.2],[0.62,2.16],[0.77,2.23],[0.82,2.18],[2.55,2.16],[2.67,2.19],[3.14,2.1],[3.18,2.08],[3.2,2.1],[4.35,2.1],[4.25,2.07],[3.75,2.06],[2.44,2.07],[2.75,2.07],[2.82,2.05],[2.97,2.03],[3.47,2.02],[3.48,1.97],[2.32,1.95],[2.5,1.93],[2.63,2.02],[2.7,2.0],[3.19,1.98],[2.42,1.92],[2.7,1.92],[2.93,1.92],[3.09,1.95],[3.38,1.93],[3.08,1.9],[3.78,1.92],[4.76,1.9],[1.7,1.84],[1.77,1.83],[1.8,1.82],[2.17,1.8],[2.36,1.82],[2.52,1.85],[2.77,1.8],[2.8,1.78],[2.83,1.77],[3.48,1.8],[3.77,1.79],[2.55,1.74],[2.63,1.73],[2.93,1.72],[2.9,1.7],[3.05,1.77],[3.1,1.75],[3.45,1.72],[2.33,1.68],[2.22,1.65],[2.55,1.66],[2.75,1.65],[3.28,1.65],[3.96,1.66],[2.33,1.58],[2.44,1.58],[2.6,1.63],[2.58,1.58],[2.93,1.57],[3.1,1.56],[3.27,1.6],[2.25,1.55],[1.98,1.55],[2.55,1.52],[2.6,1.48],[3.4,1.56],[3.57,1.56],[3.12,1.5],[1.5,1.49],[1.95,1.45],[2.08,1.42],[2.18,1.47],[2.27,1.45],[2.33,1.45],[2.9,1.46],[3.0,1.44],[2.5,1.4],[1.67,1.44],[1.72,1.42],[1.35,1.4],[2.42,1.38],[2.65,1.38],[2.77,1.38],[3.23,1.4],[3.22,1.37],[3.72,1.43],[4.6,1.39],[0.92,1.34],[1.29,1.33],[1.6,1.32],[1.6,1.26],[2.05,1.33],[2.32,1.34],[2.42,1.32],[2.55,1.33],[2.92,1.35],[2.95,1.35],[2.62,1.28],[2.78,1.25],[3.05,1.27],[3.13,1.33],[3.72,1.33],[1.8,1.27],[1.9,1.3],[1.85,1.3],[2.0,1.25],[2.1,1.15],[2.22,1.14],[2.32,1.15],[2.43,1.18],[2.52,1.25],[2.58,1.25],[3.14,1.12],[3.23,1.18],[1.18,1.07],[1.5,1.12],[1.6,1.08],[1.8,1.08],[1.9,1.12],[1.95,1.1],[2.0,1.0],[2.1,1.08],[2.4,1.02],[2.45,1.05],[2.65,1.05],[2.76,1.05],[1.1,0.97],[1.22,0.97],[1.4,0.95],[1.5,0.97],[1.62,1.0],[1.72,0.95],[1.85,0.97],[1.95,0.95],[2.03,0.95],[2.42,0.9],[2.95,0.97],[3.35,0.96],[1.15,0.89],[1.5,0.9],[1.62,0.87],[1.75,0.85],[1.85,0.85],[1.95,0.83],[2.05,0.87],[2.2,0.9],[2.32,0.82],[2.6,0.79],[2.97,0.84],[0.41,0.79],[0.82,0.83],[1.0,0.77],[1.15,0.8],[1.3,0.83],[1.52,0.82],[1.63,0.78],[1.7,0.8],[2.05,0.78],[2.13,0.83],[2.32,0.75],[1.27,0.72],[1.45,0.7],[1.55,0.72],[1.7,0.68],[1.92,0.68],[2.0,0.72],[2.55,0.68],[2.84,0.72],[0.95,0.64],[1.17,0.62],[1.22,0.68],[1.28,0.65],[1.45,0.6],[1.55,0.62],[1.7,0.56],[2.07,0.59],[2.15,0.6],[2.18,0.66],[2.61,0.6],[2.76,0.61],[0.7,0.55],[0.82,0.54],[0.92,0.52],[1.2,0.58],[1.25,0.55],[1.33,0.55],[2.63,0.52],[0.47,0.46],[0.6,0.42],[0.65,0.45],[0.75,0.42],[0.9,0.42],[1.0,0.46],[1.08,0.41],[1.2,0.42],[1.35,0.45],[1.42,0.44],[1.55,0.46],[1.75,0.45],[2.4,0.48],[2.56,0.41],[0.5,0.32],[0.68,0.3],[0.75,0.28],[0.82,0.33],[0.9,0.26],[0.95,0.3],[1.0,0.27],[1.1,0.3],[1.18,0.33],[1.22,0.34],[1.23,0.25],[1.48,0.28],[1.55,0.37],[1.79,0.33],[1.92,0.34],[2.07,0.31],[2.13,0.31],[2.17,0.23],[0.22,0.16],[0.36,0.21],[0.36,0.04],[0.62,0.2],[0.63,0.09],[0.7,0.16],[0.78,0.2],[0.85,0.23],[0.88,0.16],[1.1,0.2],[1.13,0.18]
];

// ---------- panel G box plot ----------
const boxCategories = ['Non−response', 'Response'];
const gTicks = [0, 2, 4, 6];
const gWhiskerLow = [0, 0.01];
const gQ1 = [0.61, 1.585];
const gMedian = [1.9, 3.095];
const gQ3 = [3.37, 4.72];
const gWhiskerHigh = [6.18, 6.52];

// ---------- panel H box plot ----------
const hTicks = [0, 1, 2, 3];
const hWhiskerLow = [0, 0.01];
const hQ1 = [0.4, 0.42];
const hMedian = [0.72, 0.84];
const hQ3 = [1.07, 1.254];
const hWhiskerHigh = [1.994, 2.12];
const hOutliersNonResponse = [3.58, 3.31, 3.05, 2.9, 2.62, 2.32, 2.21, 2.2, 2.08];
const hOutliersResponse = [2.79];

// ---------- bar panels ----------
const cellLines = ['AGS', 'SNU719'];
const iTicks = [0, 0.5, 1, 1.5];
const iMeans = [0.995, 0.686];
const iErrors = [0.212, 0.392];
const jTicks = [0, 2, 4, 6];
const jMeans = [0.99, 4.11];
const jErrors = [0.05, 0.81];

const NS = 'http://www.w3.org/2000/svg';
const marks = document.getElementById('marks');
function make(tag, attrs, parent) {
  const node = document.createElementNS(NS, tag);
  Object.keys(attrs).forEach(function (k) { node.setAttribute(k, attrs[k]); });
  parent.appendChild(node);
  return node;
}
function linear(v0, p0, v1, p1) {
  return function (v) { return p0 + (v - v0) * (p1 - p0) / (v1 - v0); };
}

function drawScatter(o) {
  const g = make('g', {}, marks);
  
  
  const xs = linear(o.xRef[0], o.xRef[1], o.xRef[2], o.xRef[3]);
  const ys = linear(o.yRef[0], o.yRef[1], o.yRef[2], o.yRef[3]);
  const frame = make('rect', { x: o.l, y: o.t, width: o.r - o.l, height: o.b - o.t, fill: 'none', stroke: '#3a3a3a', 'stroke-width': 1.2 }, g);
  
  
  o.xTicks.forEach(function (t) {
    const tick = make('line', { x1: xs(t), x2: xs(t), y1: o.b, y2: o.b + 8.5, stroke: '#3a3a3a', 'stroke-width': 1.1 }, g);
    
    
    const label = make('text', { x: xs(t), y: o.xLabelY, 'text-anchor': 'middle', 'font-size': 14, fill: '#111' }, g);
    
    
    label.textContent = t;
  });
  o.yTicks.forEach(function (t) {
    const tick = make('line', { x1: o.l - 8.5, x2: o.l, y1: ys(t), y2: ys(t), stroke: '#3a3a3a', 'stroke-width': 1.1 }, g);
    
    
    const label = make('text', { transform: 'translate(' + o.yLabelX + ' ' + ys(t) + ') rotate(-90)', 'text-anchor': 'middle', 'font-size': 14, fill: '#111' }, g);
    
    
    label.textContent = t;
  });
  o.points.forEach(function (p) {
    const dot = make('circle', { cx: xs(p[0]), cy: ys(p[1]), r: 2.1, fill: '#000' }, g);
    
    
  });
}

drawScatter({ id: 'a', points: pointsA, l: 70.3, r: 443.7, t: 44, b: 405, xRef: [0, 79, 8, 371.3], yRef: [0, 398, 8, 81], xTicks: ticksCXCL9, yTicks: ticksCD274, xLabelY: 435, yLabelX: 50.7 });
drawScatter({ id: 'b', points: pointsB, l: 581, r: 950.7, t: 42.7, b: 400, xRef: [0, 589.7, 8, 879.3], yRef: [0, 394.3, 7, 68], xTicks: ticksCXCL9, yTicks: ticksCTLA4, xLabelY: 429, yLabelX: 561.7 });
drawScatter({ id: 'c', points: pointsC, l: 1074.3, r: 1444.3, t: 35.7, b: 394, xRef: [0, 1083, 8, 1373], yRef: [0, 384, 4, 87], xTicks: ticksCXCL9, yTicks: ticksPDCD1, xLabelY: 423, yLabelX: 1055 });
drawScatter({ id: 'd', points: pointsD, l: 74.7, r: 442, t: 570, b: 925, xRef: [1, 140.3, 5, 406.3], yRef: [0, 917.7, 8, 606], xTicks: ticksCXCR6, yTicks: ticksCD274, xLabelY: 954.7, yLabelX: 55 });
drawScatter({ id: 'e', points: pointsE, l: 584, r: 953, t: 562.7, b: 919.3, xRef: [1, 650, 5, 917.3], yRef: [0, 914, 7, 588], xTicks: ticksCXCR6, yTicks: ticksCTLA4, xLabelY: 949, yLabelX: 565 });
drawScatter({ id: 'f', points: pointsF, l: 1069.7, r: 1436.7, t: 556, b: 910.3, xRef: [1, 1135.3, 5, 1401], yRef: [0, 900, 4, 605.7], xTicks: ticksCXCR6, yTicks: ticksPDCD1, xLabelY: 939.3, yLabelX: 1051 });

function drawLegendKey(g, cx, top, bottom, whiskTop, whiskBottom, halfW, color) {
  const stem = make('line', { x1: cx, x2: cx, y1: whiskTop, y2: whiskBottom, stroke: '#000', 'stroke-width': 1.6 }, g);
  
  
  const key = make('rect', { x: cx - halfW, y: top, width: 2 * halfW, height: bottom - top, fill: color, stroke: '#000', 'stroke-width': 1.7 }, g);
  
  
  const mid = make('line', { x1: cx - halfW, x2: cx + halfW, y1: (top + bottom) / 2, y2: (top + bottom) / 2, stroke: '#000', 'stroke-width': 1.9 }, g);
  
  
}

function drawBox(o) {
  const g = make('g', {}, marks);
  
  
  const ys = linear(o.yRef[0], o.yRef[1], o.yRef[2], o.yRef[3]);
  const colors = ['#0000ff', '#ff0000'];
  const yAxis = make('line', { x1: o.axisX, x2: o.axisX, y1: o.axisTop, y2: o.axisBottom, stroke: '#111', 'stroke-width': 1.9 }, g);
  
  
  const xAxis = make('line', { x1: o.axisX, x2: o.axisRight, y1: o.axisBottom, y2: o.axisBottom, stroke: '#111', 'stroke-width': 1.9 }, g);
  
  
  o.ticks.forEach(function (t) {
    const tick = make('line', { x1: o.axisX - 4, x2: o.axisX, y1: ys(t), y2: ys(t), stroke: '#111', 'stroke-width': 1.6 }, g);
    
    
    const label = make('text', { x: o.yLabelRight, y: ys(t) + 8.2, 'text-anchor': 'end', 'font-size': 23, fill: '#111' }, g);
    
    
    label.textContent = t;
  });
  boxCategories.forEach(function (name, i) {
    const cx = o.centers[i];
    const whisker = make('line', { x1: cx, x2: cx, y1: ys(o.low[i]), y2: ys(o.high[i]), stroke: '#000', 'stroke-width': 2 }, g);
    
    
    const box = make('rect', { x: cx - o.halfW, y: ys(o.q3[i]), width: 2 * o.halfW, height: ys(o.q1[i]) - ys(o.q3[i]), fill: colors[i], stroke: '#111', 'stroke-width': 1.9 }, g);
    
    
    const median = make('line', { x1: cx - o.halfW, x2: cx + o.halfW, y1: ys(o.med[i]), y2: ys(o.med[i]), stroke: '#000', 'stroke-width': 4.2 }, g);
    
    
    const tick = make('line', { x1: cx, x2: cx, y1: o.axisBottom, y2: o.axisBottom + 5, stroke: '#111', 'stroke-width': 1.6 }, g);
    
    
    const label = make('text', { x: cx, y: o.xLabelY, 'text-anchor': 'middle', 'font-size': o.xFont, fill: '#111' }, g);
    
    
    label.textContent = name;
    (o.outliers ? o.outliers[i] : []).forEach(function (v) {
      const dot = make('circle', { cx: cx, cy: ys(v), r: 4.9, fill: '#000' }, g);
      
      
    });
  });
  const bracket = make('path', { d: 'M' + o.centers[0] + ' ' + o.bracketTip + 'V' + o.bracketY + 'H' + o.centers[1] + 'V' + o.bracketTip, fill: 'none', stroke: '#444', 'stroke-width': 1.4 }, g);
  
  
  drawLegendKey(g, o.legend[0], o.legend[2], o.legend[3], o.legend[4], o.legend[5], 13.4, colors[0]);
  drawLegendKey(g, o.legend[1], o.legend[2], o.legend[3], o.legend[4], o.legend[5], 13.4, colors[1]);
}

drawBox({ id: 'g', ticks: gTicks, yRef: [0, 1601.1, 6, 1226.5], axisX: 67.9, axisTop: 1152, axisBottom: 1622.6, axisRight: 695.5, yLabelRight: 56, centers: [238.8, 524.6], halfW: 100.5, low: gWhiskerLow, high: gWhiskerHigh, q1: gQ1, q3: gQ3, med: gMedian, xLabelY: 1650.8, xFont: 23.2, bracketY: 1173, bracketTip: 1185.7, legend: [245.1, 429.9, 1090.2, 1108.7, 1085.6, 1113.3] });
drawBox({ id: 'h', ticks: hTicks, yRef: [0, 1601.5, 3, 1250.1], axisX: 802.7, axisTop: 1138.6, axisBottom: 1623.9, axisRight: 1449, yLabelRight: 790.6, centers: [979, 1272.8], halfW: 103, low: hWhiskerLow, high: hWhiskerHigh, q1: hQ1, q3: hQ3, med: hMedian, xLabelY: 1652.9, xFont: 23.9, bracketY: 1160.5, bracketTip: 1173.1, outliers: [hOutliersNonResponse, hOutliersResponse], legend: [985.5, 1175.4, 1075.9, 1094.4, 1070.8, 1099.4] });

function drawBars(o) {
  const g = make('g', {}, marks);
  
  
  const ys = linear(o.yRef[0], o.yRef[1], o.yRef[2], o.yRef[3]);
  const colors = ['#0000ff', '#ff0000'];
  cellLines.forEach(function (name, i) {
    const top = ys(o.means[i] + o.errors[i]);
    const err = make('line', { x1: o.centers[i], x2: o.centers[i], y1: top, y2: ys(o.means[i]), stroke: '#111', 'stroke-width': 1.5 }, g);
    
    
    const cap = make('line', { x1: o.centers[i] - 20.7, x2: o.centers[i] + 20.7, y1: top, y2: top, stroke: '#111', 'stroke-width': 1.5 }, g);
    
    
    const bar = make('rect', { x: o.barLeft[i], y: ys(o.means[i]), width: 82, height: ys(0) - ys(o.means[i]), fill: colors[i], stroke: '#222', 'stroke-width': 1.8 }, g);
    
    
    const tick = make('line', { x1: o.centers[i], x2: o.centers[i], y1: ys(0), y2: o.tickEnd, stroke: '#000', 'stroke-width': 3.6 }, g);
    
    
    const label = make('text', { x: o.centers[i], y: o.xLabelY, 'text-anchor': 'middle', 'font-size': 32.7, 'font-weight': 'bold' }, g);
    
    
    label.textContent = name;
  });
  const yAxis = make('line', { x1: o.axisX, x2: o.axisX, y1: ys(o.ticks[o.ticks.length - 1]) - 2, y2: ys(0) + 2, stroke: '#000', 'stroke-width': 4 }, g);
  
  
  const xAxis = make('line', { x1: o.axisLeft, x2: o.axisRight, y1: ys(0), y2: ys(0), stroke: '#000', 'stroke-width': 4 }, g);
  
  
  o.ticks.forEach(function (t) {
    const tick = make('line', { x1: o.axisLeft, x2: o.axisX, y1: ys(t), y2: ys(t), stroke: '#000', 'stroke-width': 3.6 }, g);
    
    
    const label = make('text', { x: o.yLabelRight, y: ys(t) + 11.5, 'text-anchor': 'end', 'font-size': 32, 'font-weight': 'bold' }, g);
    
    
    label.textContent = o.decimals ? t.toFixed(o.decimals) : t;
  });
  const bracket = make('path', { d: 'M' + o.centers[0] + ' ' + o.bracket[1] + 'V' + o.bracket[0] + 'H' + o.bracket[3] + 'V' + o.bracket[2], fill: 'none', stroke: '#000', 'stroke-width': 6 }, g);
  
  
}

drawBars({ id: 'i', ticks: iTicks, decimals: 1, means: iMeans, errors: iErrors, yRef: [0, 2223.2, 1.5, 1779.9], centers: [319.4, 445.5], barLeft: [279, 404.3], axisX: 236, axisLeft: 217.4, axisRight: 530.8, tickEnd: 2242.1, xLabelY: 2276.9, yLabelRight: 211.5, bracket: [1824.6, 1849.8, 1885.4, 445] });
drawBars({ id: 'j', ticks: jTicks, decimals: 0, means: jMeans, errors: jErrors, yRef: [0, 2225.1, 6, 1781.9], centers: [1103.5, 1230], barLeft: [1062.8, 1189.2], axisX: 1019.7, axisLeft: 1001.5, axisRight: 1315.4, tickEnd: 2244.4, xLabelY: 2278.8, yLabelRight: 995, bracket: [1822.8, 2134, 1844.4, 1228.4] });
</script>
</body>
</html>
